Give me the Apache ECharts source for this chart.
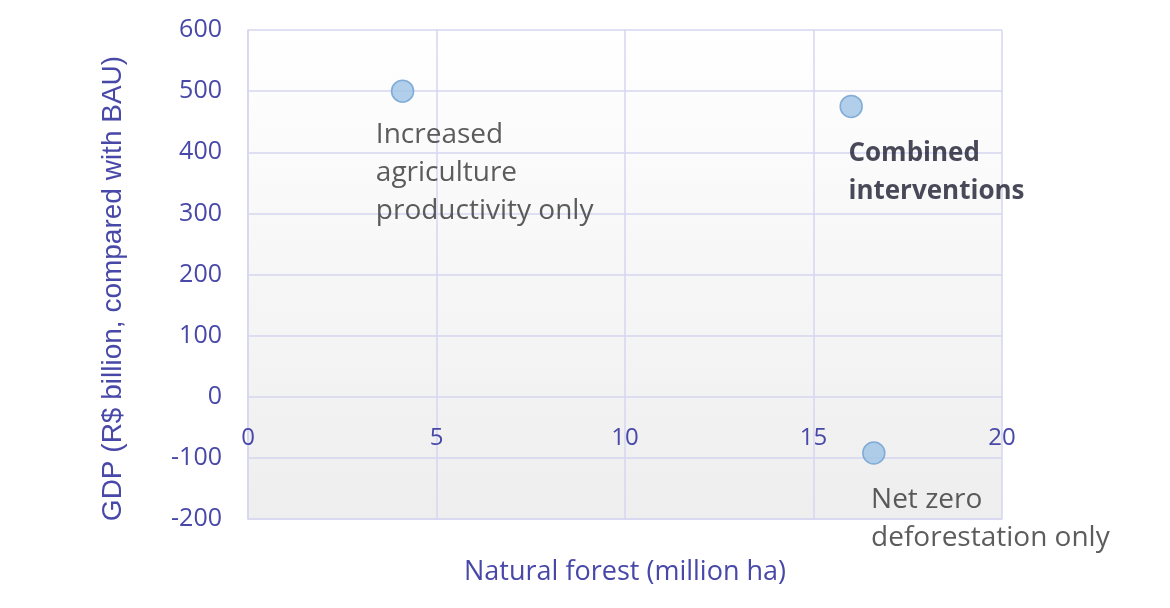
<!DOCTYPE html>
<html>
<head>
<meta charset="utf-8">
<script src="https://cdn.jsdelivr.net/npm/echarts@6/dist/echarts.min.js"></script>
<style>
  html, body { margin: 0; padding: 0; background: #ffffff; }
  #main { width: 1170px; height: 608px; }
</style>
</head>
<body>
<div id="main"></div>
<script>
// scenarios
const scenarios = ['Increased\nagriculture\nproductivity only', 'Combined\ninterventions', 'Net zero\ndeforestation only']
const forest = [4.1, 16.0, 16.6]     // million ha
const gdp = [500, 475, -92]          // R$ billion vs BAU
const boldLabel = [false, true, false]
// where each label sits relative to its dot
const labelPos = [[-15, 37], [9, 40], [9, 40]]

const axisColor = '#4848a8'
const gridColor = '#d6d6f0'

const chart = echarts.init(document.getElementById('main'))

const points = forest.map((x, i) => ({
  value: [x, gdp[i]],
  name: scenarios[i],
  label: {
    position: labelPos[i],
    fontWeight: boldLabel[i] ? 'bold' : 'normal',
    fontSize: boldLabel[i] ? 26 : 28,
    color: boldLabel[i] ? '#1c1c30' : '#333333'
  }
}))

chart.setOption({
  backgroundColor: '#ffffff',
  grid: {
    left: 248, right: 168, top: 30, bottom: 89,
    outerBoundsMode: 'none',
    containLabel: false,
    show: true,
    borderWidth: 0,
    backgroundColor: new echarts.graphic.LinearGradient(0, 0, 0, 1, [
      { offset: 0, color: '#ffffff' },
      { offset: 1, color: '#eeeeee' }
    ])
  },
  xAxis: {
    type: 'value',
    min: 0, max: 20, interval: 5,
    name: 'Natural forest (million ha)',
    nameLocation: 'middle',
    nameGap: 40,
    nameTextStyle: { color: axisColor, fontSize: 27, fontFamily: 'Open Sans' },
    axisLine: { show: true, onZero: false, lineStyle: { color: gridColor, width: 1.5 } },
    axisTick: { show: false },
    // tick labels sit just under the zero line, as in the original
    axisLabel: { color: axisColor, fontSize: 24, fontFamily: 'Open Sans', margin: -93 },
    splitLine: { lineStyle: { color: gridColor, width: 1.5 } }
  },
  yAxis: {
    type: 'value',
    min: -200, max: 600, interval: 100,
    name: 'GDP (R$ billion, compared with BAU)',
    nameLocation: 'middle',
    nameGap: 121,
    nameTextStyle: { color: axisColor, fontSize: 28, fontFamily: 'Liberation Sans', padding: [0, 28, 0, 0] },
    axisLine: { show: true, onZero: false, lineStyle: { color: gridColor, width: 1.5 } },
    axisTick: { show: false },
    axisLabel: { color: axisColor, fontSize: 25, fontFamily: 'Open Sans', margin: 26 },
    splitLine: { lineStyle: { color: gridColor, width: 1.5 } }
  },
  series: [{
    type: 'scatter',
    symbolSize: 22,
    itemStyle: { color: '#9dc3e6', borderColor: '#6d9fd0', borderWidth: 1.5 },
    label: {
      show: true,
      formatter: p => p.name,
      align: 'left',
      verticalAlign: 'top',
      lineHeight: 38,
      fontFamily: 'Open Sans'
    },
    data: points
  }]
})
</script>
</body>
</html>
